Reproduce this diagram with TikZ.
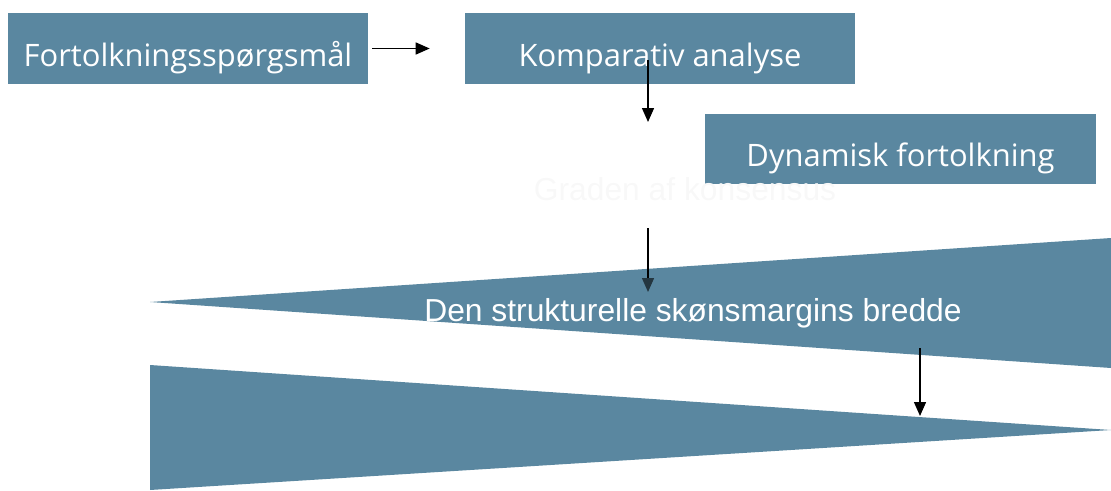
\documentclass[tikz,border=0pt]{standalone}
\usepackage{fontspec}
\setmainfont{Open Sans}
\newfontfamily\arialfont{Liberation Sans}
\usetikzlibrary{arrows.meta,positioning}
\definecolor{steel}{HTML}{5A87A0}
\definecolor{ghost}{HTML}{F8F8F8}

\begin{document}
\begin{tikzpicture}[
    x=0.02cm, y=-0.02cm,
    stage/.style={rectangle, fill=steel, text=white, minimum width=7.2cm, minimum height=1.42cm, inner sep=0pt, text height=0.72cm, text depth=0pt, font=\fontsize{17.6}{20}\selectfont},
    wedge/.style={fill=steel, draw=none},
    label/.style={inner sep=0pt, font=\arialfont\fontsize{18.1}{21}\selectfont},
    arrow/.style={-{Triangle[length=0.28cm, width=0.24cm]}, line width=0.8pt}
]
\useasboundingbox (0,0) rectangle (1111,490);

% Wedges
\fill[wedge] (150,302) -- (1111,238) -- (1111,368) -- cycle;
\fill[wedge] (150,365) -- (1111,430) -- (150,490) -- cycle;

% Nodes
\node (question) [stage] at (188,48.5) {Fortolkningsspørgsmål};
\node (compare) [stage, minimum width=7.8cm] at (660,48.5) {Komparativ analyse};
\node (dynamic) [stage, minimum width=7.82cm] at (900.5,149) {Dynamisk fortolkning};
\node (consensus) [label, text=ghost] at (685,189) {Graden af konsensus};
\node (margin) [label, text=white] at (693,313) {Den strukturelle skønsmargins bredde};

% Arrow ends
\coordinate (c1) at (648,60);
\coordinate (c2) at (648,122);
\coordinate (c3) at (648,228);
\coordinate (c4) at (648,292);
\coordinate (c5) at (920,348);
\coordinate (c6) at (920,416);

% Arrows
\draw [arrow, shorten <=0.08cm, shorten >=0.7cm] (question) -- (compare);
\draw [arrow] (c1) -- (c2);
\draw [arrow, -{Triangle[length=0.28cm, width=0.24cm, color=steel!40!black]}] (c3) -- (c4);
\draw [arrow] (c5) -- (c6);

\end{tikzpicture}
\end{document}
